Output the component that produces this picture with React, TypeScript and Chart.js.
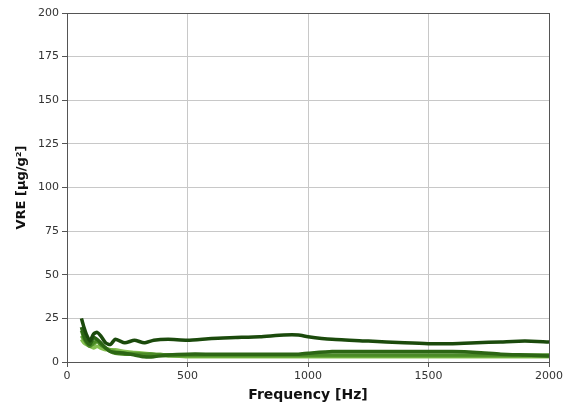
import React, { useEffect, useRef } from "react";
import { Chart, registerables } from "chart.js";

Chart.register(...registerables);

const freq = [60, 70, 80, 95, 110, 125, 140, 160, 180, 200, 240, 280, 320, 360, 420, 500, 600, 700, 800, 900, 960, 1000, 1100, 1250, 1400, 1500, 1600, 1700, 1800, 1900, 2000];
const seriesA = [25, 20, 16, 12, 16, 17, 15, 11, 10, 13, 11, 12.5, 11, 12.5, 13, 12.5, 13.5, 14, 14.5, 15.5, 15.5, 14.5, 13, 12, 11, 10.5, 10.5, 11, 11.5, 12, 11.5];
const seriesB = [20, 15, 12, 10, 14, 13, 11, 8, 6, 5.5, 5, 4, 3, 3, 4, 4.5, 4.5, 4.5, 4.5, 4.5, 4.5, 5, 6, 6, 6, 6, 6, 5.5, 4.5, 4, 3.5];
const seriesC = [18, 14, 11, 9, 11, 12, 10, 8, 6, 5, 4.5, 4.5, 4.5, 4.5, 4, 4, 4, 4, 4, 4, 4, 4, 4, 4, 4, 4, 4, 4, 4, 4, 4];
const seriesD = [15, 13, 12, 11, 10, 12, 10, 8, 7, 6, 5, 5, 4.5, 4, 3.5, 3.5, 3.5, 3.5, 3.5, 3.5, 3.5, 3.5, 3.5, 3.5, 3.5, 3.5, 3.5, 3.5, 3.5, 3.5, 3.5];
const seriesE = [13, 11, 10, 9, 8, 9, 8, 7, 7, 7, 6, 5.5, 5, 4.5, 4, 3, 3, 3, 3, 3, 3, 3, 3, 3, 3, 3, 3, 3, 3, 3, 3];
const seriesColors = ["#1b4a0c", "#2c6614", "#4a8a26", "#65a638", "#86c052"];
const yTicks = [0, 25, 50, 75, 100, 125, 150, 175, 200];
const xTicks = [0, 500, 1000, 1500, 2000];

const allSeries = [seriesA, seriesB, seriesC, seriesD, seriesE];

const frame = {
  id: "frame",
  afterDatasetsDraw(chart: any) {
    const { ctx, chartArea: a } = chart;
    ctx.save();
    ctx.strokeStyle = "#555";
    ctx.lineWidth = 1;
    ctx.strokeRect(a.left + 0.5, a.top + 0.5, a.right - a.left, a.bottom - a.top);
    ctx.restore();
  },
};

export default function App() {
  const ref = useRef<HTMLCanvasElement>(null);
  useEffect(() => {
    document.body.style.margin = "0";
    const order = [0, 1, 2, 3, 4];
    const chart = new Chart(ref.current!, {
      type: "line",
      data: {
        datasets: order.map((i) => ({
          data: freq.map((f, k) => ({ x: f, y: allSeries[i][k] })),
          borderColor: seriesColors[i],
          borderWidth: 3.5,
          pointRadius: 0,
          tension: 0.2,
          order: i,
        })),
      },
      options: {
        animation: false,
        responsive: false,
        layout: { padding: { top: 13, right: 28, left: 0, bottom: 0 } },
        plugins: { legend: { display: false }, tooltip: { enabled: false } },
        scales: {
          x: {
            type: "linear",
            min: 0,
            max: 2000,
            afterBuildTicks: (s: any) => { s.ticks = xTicks.map((v) => ({ value: v })); },
            afterFit: (s: any) => { s.height = 46; },
            grid: { color: "#c8c8c8", tickColor: "#555", tickLength: 5 },
            border: { color: "#555" },
            ticks: { color: "#333", font: { family: "DejaVu Sans", size: 11 }, padding: 3, maxRotation: 0, callback: (v: any) => String(v) },
            title: { display: true, text: "Frequency [Hz]", color: "#111", font: { family: "DejaVu Sans", size: 14, weight: "bold" }, padding: { top: 2 } },
          },
          y: {
            min: 0,
            max: 200,
            afterBuildTicks: (s: any) => { s.ticks = yTicks.map((v) => ({ value: v })); },
            afterFit: (s: any) => { s.width = 67; },
            grid: { color: "#c8c8c8", tickColor: "#555", tickLength: 5 },
            border: { color: "#555" },
            ticks: { color: "#333", font: { family: "DejaVu Sans", size: 11 }, padding: 3, callback: (v: any) => String(v) },
            title: { display: true, text: "VRE [µg/g²]", color: "#111", font: { family: "DejaVu Sans", size: 13, weight: "bold" }, padding: { top: 14, bottom: 2 } },
          },
        },
      },
      plugins: [frame],
    });
    return () => chart.destroy();
  }, []);
  return (
    <div style={{ width: 577, height: 408 }}>
      <canvas ref={ref} width={577} height={408} style={{ display: "block" }} />
    </div>
  );
}
